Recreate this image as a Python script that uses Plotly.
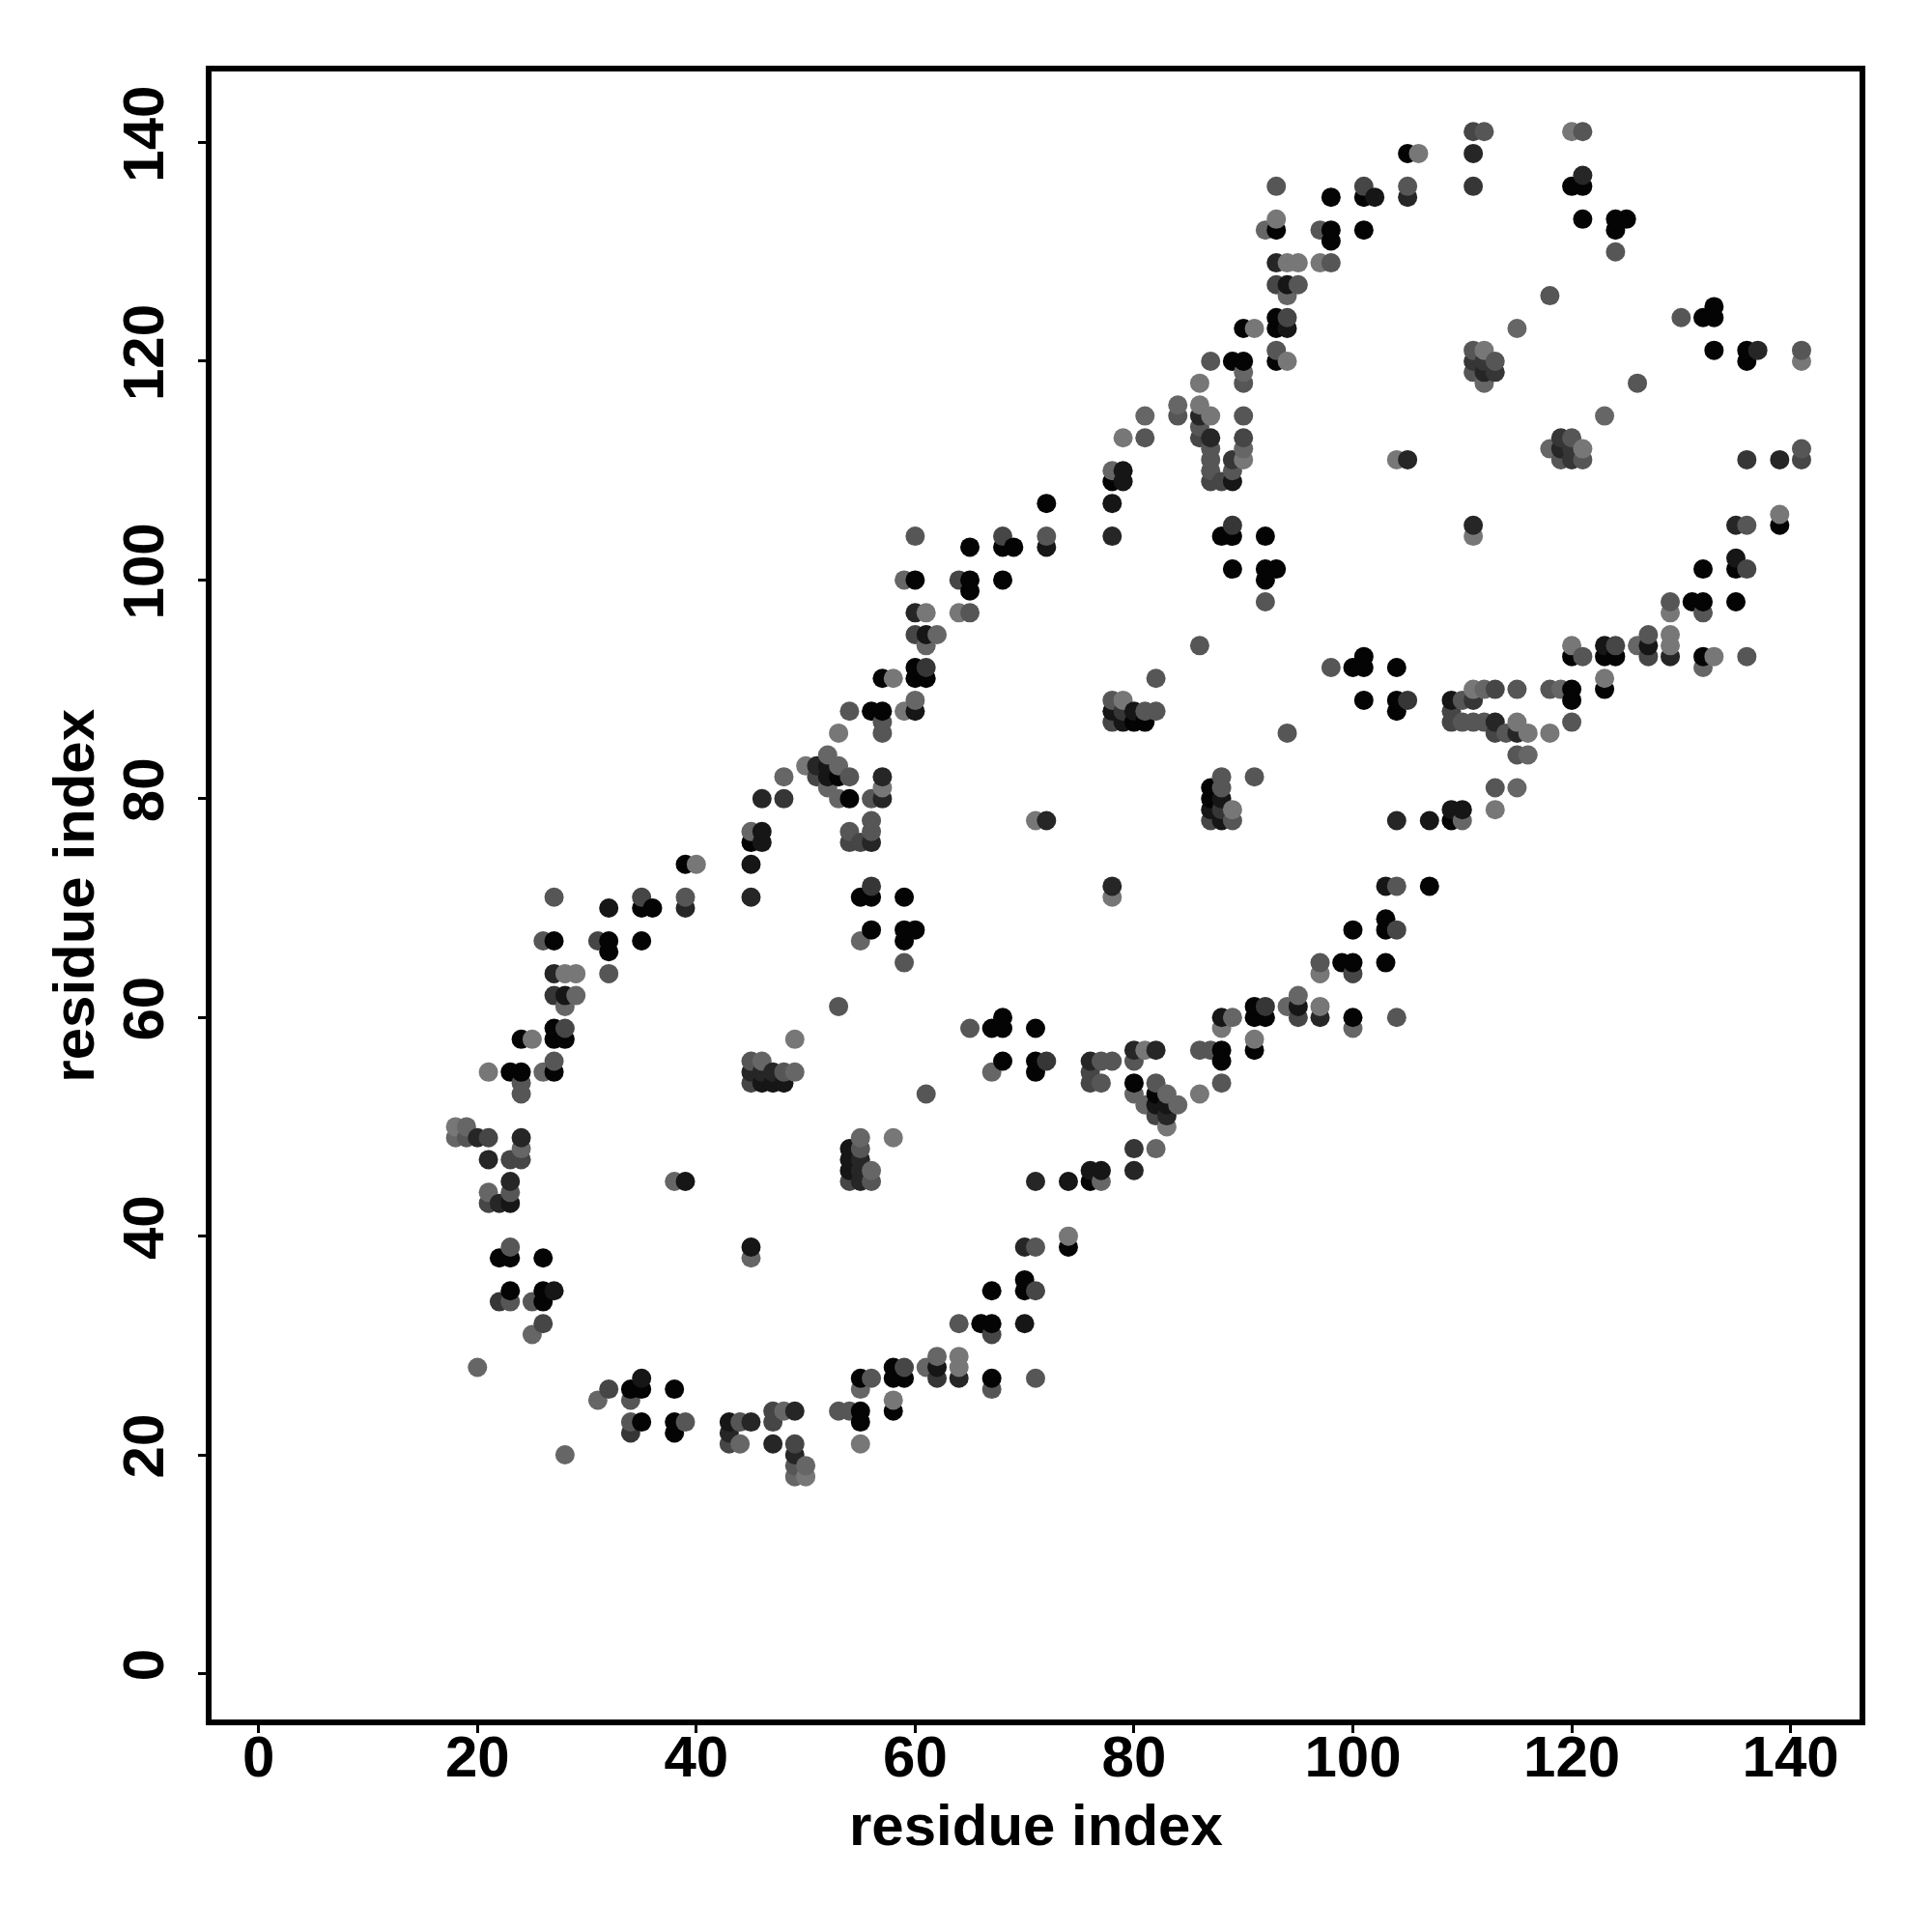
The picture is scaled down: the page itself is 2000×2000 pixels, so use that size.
import plotly.graph_objects as go

res_i = [
 18,18, 19,19, 20,20, 21,21,21,21,21, 22,22,22,
 23,23,23,23,23,23,23,23,23, 24,24,24,24,24,24,24, 25,25,25, 26,26,26,26,26,26,
 27,27,27,27,27,27,27,27,27, 28,28,28,28,28, 29,29, 31, 32,32,32,32, 35,35,35, 36, 38,
 39,39,39,39, 40, 45,45,45,45,45,45,45, 46,46,46,46,46,46, 47,47, 48,48,48,48, 49,49, 50,
 51,51, 52,52,52,52, 53,53,53,53,53, 54,54,54,54,54, 55,55,55,
 56,56,56,56,56,56,56,56, 57,57,57,57,57,57,57, 58, 59,59,59,59,59,59,
 60,60,60,60,60,60,60,60,60, 61,61,61,61,61, 62, 64,64, 65,65,65,65, 68,68,68, 69, 71,
 72,72,72,72, 78,78,78,78,78,78,78, 79,79,79,79,79,79, 80,80, 81,81,81,81, 82,82, 84,84,
 86,86,86,86,86,86, 87,87,87,87,87,87,87, 88,88, 89,89,89,89,89,89,89,
 90,90,90,90,90,90,90,90, 91, 92,92,92,92,92,
 93,93,93,93,93,93,93,93,93,93, 94,94,94,94,94,94, 95,95, 97,97, 98,98,98,98,
 101,101,101, 102, 104, 105,105,105,105, 106,
 111,111,111,111,111,111, 112,112,112,112,112, 113,113, 115, 118, 120,120,
 121,121,121,121, 124,124,124, 125,
]
res_j = [
 49,50, 49,50, 28,49, 43,44,47,49,55, 34,38,43,
 34,35,38,39,43,44,45,47,55, 47,48,49,53,54,55,58, 31,34,58, 32,34,35,38,55,67,
 35,55,56,58,59,62,64,67,71, 58,59,61,62,64, 62,64, 67, 64,66,67,70, 67,70,71, 70, 45,
 45,70,71,74, 74, 54,55,56,71,74,76,77, 54,55,56,76,77,80, 54,55, 54,55,80,82, 55,58, 83,
 82,83, 81,82,83,84, 61,80,82,83,86, 76,77,80,82,88, 67,71,76,
 68,71,72,76,77,78,80,88, 80,81,82,86,87,88,91, 91, 65,67,68,71,88,100,
 68,88,89,91,92,95,97,100,104, 91,92,94,95,97, 95, 97,100, 97,99,100,103, 100,103,104, 103, 78,
 78,103,104,107, 87,88,89,104,107,109,110, 87,88,89,109,110,113, 87,88, 87,88,113,115, 88,91, 115,116,
 94,113,114,115,116,118, 109,110,111,112,113,115,120, 104,109, 101,104,105,109,110,111,120,
 111,112,113,115,118,119,120,123, 123, 98,100,101,104,132,
 101,120,121,123,124,127,129,132,133,136, 120,123,124,126,127,129, 127,129, 129,132, 129,131,132,135,
 132,135,136, 135, 111, 111,135,136,139, 139,
 119,120,121,136,139,141, 118,119,120,121,141, 119,120, 123, 126, 136,141,
 133,136,137,141, 130,132,133, 133,
]
shade = [
 6,7, 5,6, 6,2, 4,6,2,4,7, 3,0,2,
 5,0,0,5,1,5,2,4,0, 4,6,2,5,5,0,0, 6,5,7, 4,0,0,0,6,5,
 1,0,5,0,0,3,2,0,5, 0,4,6,1,7, 6,7, 4, 5,0,0,1, 0,0,4, 0, 6,
 1,2,5,0, 7, 4,2,5,2,1,0,6, 1,2,6,1,1,2, 1,2, 1,5,3,6, 6,7, 7,
 4,2, 6,1,1,6, 5,6,0,6,7, 4,5,0,5,5, 6,0,4,
 0,0,3,2,5,5,5,0, 2,7,2,5,5,0,0, 7, 5,0,0,0,7,6,
 0,1,6,0,0,4,2,0,5, 0,3,6,1,7, 6, 7,4, 5,0,0,0, 0,0,4, 0, 7,
 2,1,5,0, 4,1,5,2,1,0,6, 1,3,7,1,1,7, 0,1, 0,5,5,6, 5,5, 5,6,
 5,4,5,2,7,7, 4,5,5,5,2,7,5, 0,4, 0,0,3,1,5,3,0,
 7,6,4,5,5,6,0,0, 7, 5,0,0,0,6,
 0,0,5,0,0,4,2,0,7,5, 7,1,4,6,1,7, 5,7, 7,5, 5,0,0,0,
 0,0,4, 1, 7, 2,2,5,0, 7,
 5,3,5,3,2,4, 6,2,3,7,5, 3,5, 6, 5, 0,7,
 0,0,2,5, 5,0,0, 0,
]
shade_colors = ["#040404", "#161616", "#262626", "#363636", "#464646", "#565656", "#666666", "#777777"]
tick_values = [0, 20, 40, 60, 80, 100, 120, 140]
axis_title = "residue index"

# the map is symmetric: each contact (i, j) appears at both (i, j) and (j, i)
points = sorted(
    [(i, j, s) for i, j, s in zip(res_i, res_j, shade)]
    + [(j, i, s) for i, j, s in zip(res_i, res_j, shade)],
    key=lambda p: (p[0], p[1]),
)

fig = go.Figure(go.Scatter(
    x=[p[0] for p in points],
    y=[p[1] for p in points],
    mode="markers",
    marker=dict(size=20, color=[shade_colors[p[2]] for p in points], line=dict(width=0)),
    hoverinfo="x+y",
))

FONT = "Liberation Sans"
common = dict(
    tickmode="array", tickvals=tick_values, ticktext=[str(v) for v in tick_values],
    showgrid=False, zeroline=False, showline=True, mirror=True,
    linecolor="black", linewidth=6,
    ticks="outside", ticklen=8, tickwidth=3, tickcolor="black",
    tickfont=dict(family=FONT, size=60, color="black", weight="bold"),
)
fig.update_layout(
    width=2000, height=2000, autosize=False,
    paper_bgcolor="white", plot_bgcolor="white",
    margin=dict(l=211, r=83, t=66, b=228, autoexpand=False),
    showlegend=False,
    xaxis=dict(range=[-4.3, 146.3], ticklabelstandoff=-27, **common),
    yaxis=dict(range=[-4.2, 146.5], tickangle=-90, ticklabelstandoff=12, **common),
    annotations=[
        dict(text=axis_title, xref="paper", yref="paper", x=0.5, y=-0.064, yanchor="middle",
             xanchor="center", showarrow=False,
             font=dict(family=FONT, size=60, color="black", weight="bold")),
        dict(text=axis_title, xref="paper", yref="paper", x=-0.084, y=0.5, textangle=-90,
             xanchor="center", yanchor="middle", showarrow=False,
             font=dict(family=FONT, size=60, color="black", weight="bold")),
    ],
)
assert len(res_i) == len(res_j) == len(shade), (len(res_i), len(res_j), len(shade))
fig.write_html("out.html")
